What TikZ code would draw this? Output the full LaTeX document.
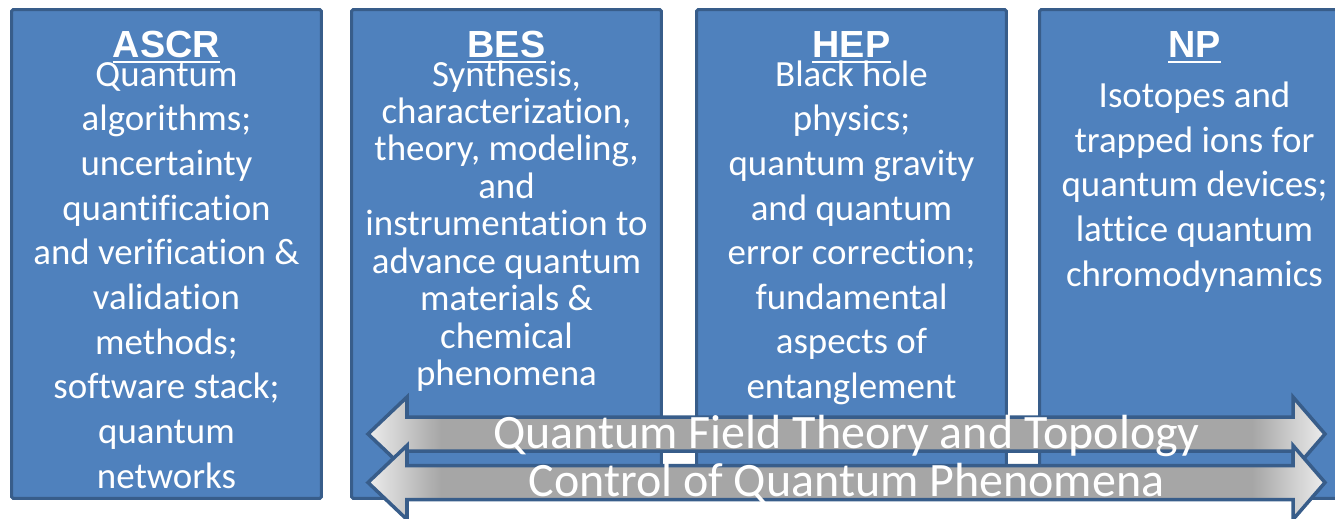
\documentclass[tikz,border=0pt]{standalone}
\usepackage{fontspec}
\setmainfont{Carlito}[Ligatures=NoCommon]
\newfontfamily\headfont{Liberation Sans}
\definecolor{boxblue}{HTML}{4F81BD}
\definecolor{boxline}{HTML}{385D8A}
\definecolor{bargray}{HTML}{A6A6A6}
\definecolor{barlight}{HTML}{EDEDED}
\pgfdeclarehorizontalshading{barshade}{100bp}{color(0bp)=(barlight); color(25bp)=(barlight); color(28.8bp)=(bargray); color(71.2bp)=(bargray); color(75bp)=(barlight); color(100bp)=(barlight)}

\begin{document}
\begin{tikzpicture}[x=0.02cm, y=-0.02cm,
	panel/.style={draw=boxline, fill=boxblue, line width=1.7pt, rounded corners=1pt, minimum width=6.2cm, minimum height=9.78cm, inner sep=0pt},
	head/.style={text=white, font=\headfont\bfseries\fontsize{21.5}{24}\selectfont, inner sep=0pt, anchor=base},
	uline/.style={white, line width=1.4pt},
	body/.style={text=white, align=center, font=\fontsize{21}{25.4}\selectfont, inner sep=0pt, anchor=base},
	bar/.style={draw=boxline, line width=2pt, line join=miter, shade, shading=barshade},
	bartext/.style={text=white, font=\fontsize{27.3}{30}\selectfont, inner sep=0pt, anchor=base}]
	\clip (0,0) rectangle (1335,518);
	\foreach \nm/\cx/\ttl in {ascr/166.5/ASCR, bes/506.5/BES, hep/851.5/HEP, np/1194.5/NP} {
		\node[panel] (\nm) at (\cx,254) {};
		\node[head] (\nm-t) at (\cx,57) {\ttl};
		\draw[uline] ([yshift=-0.1cm]\nm-t.base west) -- ([yshift=-0.1cm]\nm-t.base east);
	}
	% base of a multi-line node = its last line
	\node[body] (ascr-b) at (166.5,488) {Quantum\\algorithms;\\uncertainty\\quantification\\and verification \&\\validation\\methods;\\software stack;\\quantum\\networks};
	\node[body, font=\fontsize{21}{21.3}\selectfont] (bes-b) at (506.5,385.5) {Synthesis,\\characterization,\\theory, modeling,\\and\\instrumentation to\\advance quantum\\materials \&\\chemical\\phenomena};
	\node[body] (hep-b) at (851.5,398.5) {Black hole\\physics;\\quantum gravity\\and quantum\\error correction;\\fundamental\\aspects of\\entanglement};
	\node[body] (np-b) at (1194.5,286) {Isotopes and\\trapped ions for\\quantum devices;\\lattice quantum\\chromodynamics};
	\foreach \cy/\lbl [count=\i] in {434/Quantum Field Theory and Topology, 482.5/Control of Quantum Phenomena} {
		\draw[bar] (368,\cy) -- (407,\cy-37) -- (407,\cy-17) -- (1293,\cy-17) -- (1293,\cy-37) -- (1325,\cy) -- (1293,\cy+37) -- (1293,\cy+17) -- (407,\cy+17) -- (407,\cy+37) -- cycle;
		\node[bartext] (bar\i) at (846.5,\cy+14) {\lbl};
	}
\end{tikzpicture}
\end{document}
